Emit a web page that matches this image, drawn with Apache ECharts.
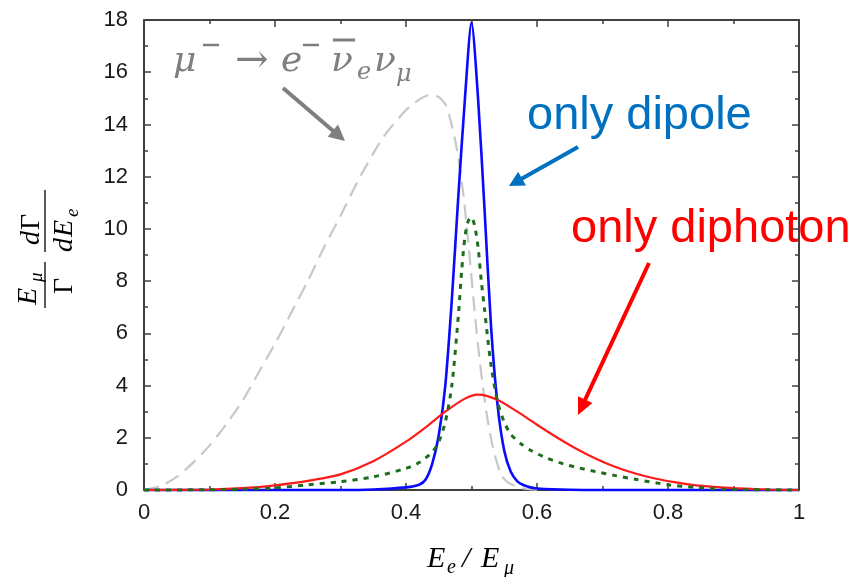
<!DOCTYPE html>
<html>
<head>
<meta charset="utf-8">
<script src="https://cdn.jsdelivr.net/npm/echarts@6/dist/echarts.min.js"></script>
<style>
html,body{margin:0;padding:0;background:#fff;}
#c{width:856px;height:577px;}
</style>
</head>
<body>
<div id="c"></div>
<script>
// ---- data ----
const smX = [0,0.025,0.05,0.075,0.1,0.125,0.15,0.175,0.2,0.225,0.25,0.275,0.3,0.33,0.365,0.40,0.42,0.435,0.45,0.462,0.477,0.488,0.498,0.505,0.513,0.523,0.533,0.545,0.555,0.575,0.6];
const smY = [0,0.15,0.5,1.05,1.7,2.5,3.4,4.5,5.6,6.8,8.0,9.3,10.5,12.0,13.5,14.55,14.95,15.12,15.05,14.68,13.15,11.23,8.69,6.77,4.86,2.94,1.6,0.6,0.3,0.08,0];

const dipoleX = [0,0.3,0.35,0.4,0.42,0.43,0.44,0.45,0.46,0.47,0.48,0.49,0.5,0.51,0.52,0.53,0.54,0.55,0.56,0.57,0.58,0.59,0.6,0.65,0.7,1.0];
const dipoleY = [0,0,0.02,0.1,0.2,0.4,1.0,2.1,4.0,7.3,11.3,15.0,17.9,15.0,10.7,6.2,3.2,1.5,0.7,0.33,0.18,0.1,0.06,0.01,0,0];

const diphotonX = [0,0.1,0.15,0.2,0.25,0.3,0.35,0.4,0.43,0.46,0.49,0.51,0.54,0.57,0.6,0.63,0.66,0.69,0.72,0.75,0.78,0.81,0.84,0.87,0.9,0.95,1.0];
const diphotonY = [0,0.02,0.07,0.18,0.35,0.6,1.1,1.85,2.4,3.0,3.5,3.65,3.45,3.0,2.5,2.02,1.58,1.2,0.88,0.63,0.44,0.3,0.19,0.12,0.07,0.02,0];

const mixedX = [0,0.1,0.15,0.2,0.25,0.3,0.35,0.4,0.42,0.44,0.45,0.46,0.47,0.48,0.485,0.49,0.495,0.5,0.505,0.51,0.515,0.52,0.525,0.53,0.54,0.55,0.56,0.575,0.59,0.615,0.64,0.665,0.69,0.72,0.75,0.8,0.84,0.87,0.9,1.0];
const mixedY = [0,0.01,0.03,0.08,0.2,0.32,0.5,0.83,1.05,1.45,1.85,2.6,4.0,6.7,8.4,9.7,10.3,10.45,10.1,9.3,8.0,6.9,5.75,4.75,3.35,2.6,2.13,1.78,1.52,1.22,1.0,0.84,0.7,0.55,0.41,0.2,0.1,0.05,0.02,0];

const xMin = 0, xMax = 1, xStep = 0.2;
const yMin = 0, yMax = 18, yStep = 2;

// ---- helpers ----
const pairs = (xs, ys) => xs.map((x, i) => [x, ys[i]]);
const SERIF = '"DejaVu Serif", "Liberation Serif", serif';
const LSERIF = '"Liberation Serif", "DejaVu Serif", serif';
const SANS = '"Liberation Sans", Arial, sans-serif';

function glyph(t, x, baseline, size, opts) {
  opts = opts || {};
  return {
    type: 'text', x: x, y: baseline - 0.3 * size,
    style: {
      text: t, fill: opts.color || '#000',
      fontSize: size, fontFamily: opts.family || LSERIF,
      fontStyle: opts.italic === false ? 'normal' : 'italic',
      align: 'left', verticalAlign: 'middle'
    }
  };
}

function arrow(x1, y1, x2, y2, color, w, hl, hw) {
  const dx = x2 - x1, dy = y2 - y1, L = Math.hypot(dx, dy);
  const ux = dx / L, uy = dy / L, nx = -uy, ny = ux;
  const bx = x2 - ux * hl, by = y2 - uy * hl;
  return [
    { type: 'line', shape: { x1: x1, y1: y1, x2: bx + ux * 2, y2: by + uy * 2 }, style: { stroke: color, lineWidth: w } },
    { type: 'polygon', shape: { points: [[x2, y2], [bx + nx * hw, by + ny * hw], [bx - nx * hw, by - ny * hw]] }, style: { fill: color } }
  ];
}

const chart = echarts.init(document.getElementById('c'), null, { renderer: 'canvas' });

const axisCol = '#404040';
const labelFont = { color: '#1a1a1a', fontSize: 22, fontFamily: SANS };

const gray = '#7f7f7f';
const graphics = [];
// mu- -> e- nubar_e nu_mu
graphics.push(glyph('μ', 173, 72, 36, { color: gray, family: SERIF }));
graphics.push({ type: 'line', shape: { x1: 203, y1: 45, x2: 219, y2: 45 }, style: { stroke: gray, lineWidth: 2.5 } });
graphics.push(glyph('→', 235, 74, 40, { color: gray, family: SERIF, italic: false }));
graphics.push(glyph('e', 281, 72, 36, { color: gray, family: SERIF }));
graphics.push({ type: 'line', shape: { x1: 303, y1: 45, x2: 319, y2: 45 }, style: { stroke: gray, lineWidth: 2.5 } });
graphics.push(glyph('ν', 331, 72, 36, { color: gray, family: SERIF }));
graphics.push({ type: 'line', shape: { x1: 333, y1: 40, x2: 355, y2: 40 }, style: { stroke: gray, lineWidth: 3 } });
graphics.push(glyph('e', 357, 80, 24, { color: gray, family: SERIF }));
graphics.push(glyph('ν', 374, 72, 36, { color: gray, family: SERIF }));
graphics.push(glyph('μ', 396, 82, 24, { color: gray, family: SERIF }));
graphics.push(...arrow(283, 88, 345, 141, gray, 4, 16, 8));

// only dipole
graphics.push(glyph('only dipole', 527, 130, 47, { color: '#0070c0', family: SANS, italic: false }));
graphics.push(...arrow(578, 147, 509, 186, '#0070c0', 4, 15, 8));
// only diphoton
graphics.push(glyph('only diphoton', 571, 243, 47, { color: '#ff0000', family: SANS, italic: false }));
graphics.push(...arrow(649, 263, 578, 415, '#ff0000', 4, 17, 8));

// x axis title  E_e / E_mu
graphics.push(glyph('E', 427, 568, 30));
graphics.push(glyph('e', 447, 574, 20));
graphics.push(glyph('/', 462, 568, 30));
graphics.push(glyph('E', 481, 568, 30));
graphics.push(glyph('μ', 504, 575, 20));

// y axis title (rotated fraction)
const yl = [];
yl.push({ type: 'line', shape: { x1: -23, y1: 0, x2: 23, y2: 0 }, style: { stroke: '#000', lineWidth: 1.3 } });
yl.push(glyph('E', -20, -8, 28));
yl.push(glyph('μ', 3, -2, 19));
yl.push(glyph('Γ', -9, 28, 28, { italic: false }));
yl.push({ type: 'line', shape: { x1: 33, y1: 0, x2: 95, y2: 0 }, style: { stroke: '#000', lineWidth: 1.3 } });
yl.push(glyph('d', 40, -5, 28));
yl.push(glyph('Γ', 55, -5, 28, { italic: false }));
yl.push(glyph('d', 33, 28, 28));
yl.push(glyph('E', 48, 28, 28));
yl.push(glyph('e', 68, 34, 19));
graphics.push({ type: 'group', x: 45, y: 285, rotation: Math.PI / 2, children: yl });

const grid = { left: 144, right: 57, top: 20, bottom: 87 };

function axisCommon(pos, showLabel, isX) {
  return {
    type: 'value', position: pos,
    min: isX ? xMin : yMin, max: isX ? xMax : yMax, interval: isX ? xStep : yStep,
    axisLine: { show: true, onZero: false, lineStyle: { color: axisCol, width: 2 } },
    axisTick: { show: true, inside: true, length: 7, lineStyle: { color: axisCol, width: 1.5 } },
    minorTick: { show: true, splitNumber: 2, length: 4, lineStyle: { color: axisCol, width: 1.5 } },
    splitLine: { show: false },
    axisLabel: showLabel
      ? Object.assign({ margin: isX ? 12 : 16 }, isX ? { formatter: v => String(+v.toFixed(1)) } : {}, labelFont)
      : { show: false }
  };
}

const lineSeries = (name, xs, ys, z, lineStyle) => ({
  name: name, type: 'line', data: pairs(xs, ys), smooth: 0.25,
  showSymbol: false, clip: false, z: z, lineStyle: lineStyle
});

const option = {
  backgroundColor: '#fff',
  animation: false,
  grid: grid,
  xAxis: [axisCommon('bottom', true, true), axisCommon('top', false, true)],
  yAxis: [axisCommon('left', true, false), axisCommon('right', false, false)],
  series: [
    lineSeries('SM', smX, smY, 2, { color: '#c8c8c8', width: 2.2, type: [15, 8] }),
    lineSeries('only dipole', dipoleX, dipoleY, 3, { color: '#0a0aff', width: 2.6 }),
    lineSeries('only diphoton', diphotonX, diphotonY, 4, { color: '#ff1a1a', width: 2.2 }),
    lineSeries('mixed', mixedX, mixedY, 5, { color: '#1e6e1e', width: 3, type: [5, 6] })
  ],
  graphic: graphics
};
chart.setOption(option);
</script>
</body>
</html>
